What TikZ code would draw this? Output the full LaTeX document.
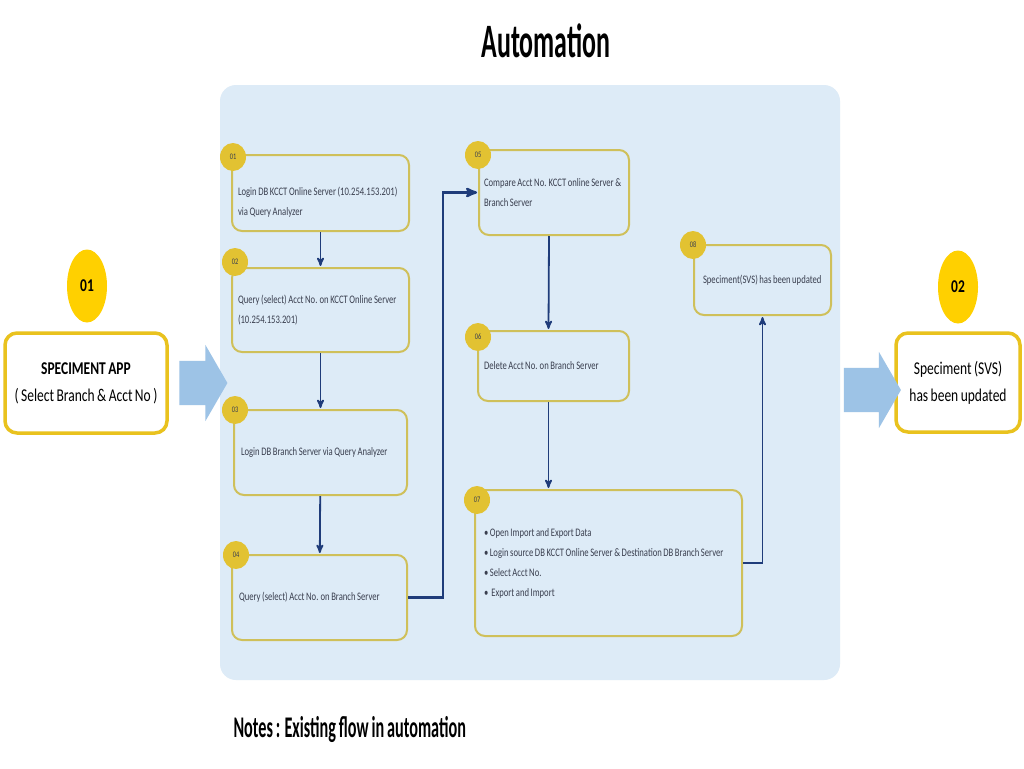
\documentclass[tikz,border=0pt]{standalone}
\usepackage{fontspec}
\setmainfont{Carlito}
\newfontfamily\narrowfont[FakeStretch=0.75,WordSpace=0.8]{Carlito}
\newfontfamily\tallfont[FakeStretch=0.54,WordSpace=0.8]{Carlito}
\usetikzlibrary{arrows,shapes.arrows,shapes.geometric}

\definecolor{panelblue}{HTML}{DDEBF7}
\definecolor{arrowblue}{HTML}{9DC3E6}
\definecolor{gold}{HTML}{FFD000}
\definecolor{goldline}{HTML}{E9C21E}
\definecolor{stepline}{HTML}{CFC05A}
\definecolor{stepdot}{HTML}{E2C232}
\definecolor{flowblue}{HTML}{1F3C7A}
\definecolor{steptext}{HTML}{3A3F4F}

\tikzset{
  endbox/.style={draw=goldline,line width=3.5pt,rounded corners=12pt,fill=white,
    align=center,inner sep=0pt,font=\narrowfont\fontsize{18}{27}\selectfont},
  enddot/.style={ellipse,fill=gold,minimum width=40pt,minimum height=73pt,inner sep=0pt,
    font=\narrowfont\bfseries\fontsize{18}{18}\selectfont},
  stepbox/.style={draw=stepline,line width=2pt,rounded corners=10pt,fill=panelblue,
    align=flush left,inner sep=0pt,text=steptext,font=\narrowfont\fontsize{11.5}{20}\selectfont},
  stepdot/.style={ellipse,fill=stepdot,minimum width=26pt,minimum height=28pt,inner sep=0pt,
    text=steptext,font=\narrowfont\fontsize{8.5}{8.5}\selectfont},
  bigarrow/.style={single arrow,fill=arrowblue,inner xsep=0pt,inner ysep=22pt,
    single arrow head extend=16pt,single arrow tip angle=120},
  flow/.style={->,>=stealth',draw=flowblue,line width=1.8pt,shorten >=1pt}
}

\begin{document}
\begin{tikzpicture}[x=1pt,y=-1pt]
  \useasboundingbox (0,0) rectangle (1024,768);
  \fill[white] (0,0) rectangle (1024,768);

  % title and notes
  \node[anchor=base,font=\tallfont\bfseries\fontsize{48}{48}\selectfont] (title) at (546,57) {Automation};
  \node[anchor=base west,font=\tallfont\bfseries\fontsize{30}{30}\selectfont] (notes) at (230,737) {Notes : Existing flow in automation};

  % automation panel
  \fill[panelblue,rounded corners=16pt] (220,85) rectangle (840,680);

  % start and end
  \node[enddot] (d1) at (87,286) {01};
  \node[endbox,minimum width=162pt,minimum height=100pt] (app) at (86,383)
    {\textbf{SPECIMENT APP}\\( Select Branch \& Acct No )};
  \node[enddot] (d2) at (958,287) {02};
  \node[endbox,minimum width=124pt,minimum height=99pt] (done) at (958,382.5)
    {Speciment (SVS)\\has been updated};

  \node[bigarrow,minimum height=48pt] (inarrow) at (197,383) {};
  \node[bigarrow,minimum height=57pt] (outarrow) at (866,390) {};

  % steps
  \node[stepbox,minimum width=177pt,minimum height=76pt,text width=165pt] (s1) at (320.5,193)
    {\rule{0pt}{26pt}Login DB KCCT Online Server (10.254.153.201)\\via Query Analyzer};
  \node[stepbox,minimum width=177pt,minimum height=84pt,text width=165pt] (s2) at (320.5,310)
    {Query (select) Acct No. on KCCT Online Server\\(10.254.153.201)};
  \node[stepbox,minimum width=173pt,minimum height=85pt,text width=159pt] (s3) at (320.5,452.5)
    {Login DB Branch Server via Query Analyzer};
  \node[stepbox,minimum width=175pt,minimum height=85pt,text width=161pt] (s4) at (319.5,597.5)
    {Query (select) Acct No. on Branch Server};
  \node[stepbox,minimum width=150pt,minimum height=85pt,text width=140pt] (s5) at (554,192.5)
    {Compare Acct No. KCCT online Server \&\\Branch Server};
  \node[stepbox,minimum width=151pt,minimum height=70pt,text width=139pt] (s6) at (553.5,366)
    {Delete Acct No. on Branch Server};
  \node[stepbox,minimum width=267pt,minimum height=146pt,text width=249pt] (s7) at (608.5,563)
    {\textbullet\ Open Import and Export Data\\
     \textbullet\ Login source DB KCCT Online Server \& Destination DB Branch Server\\
     \textbullet\ Select Acct No.\\
     \textbullet\ \ Export and Import};
  \node[stepbox,minimum width=137pt,minimum height=70pt,text width=119pt] (s8) at (762.5,280)
    {Speciment(SVS) has been updated};

  % step numbers
  \node[stepdot] (n1) at (233,157) {01};
  \node[stepdot] (n2) at (235,262) {02};
  \node[stepdot] (n3) at (235,410) {03};
  \node[stepdot] (n4) at (236,555) {04};
  \node[stepdot] (n5) at (478,155) {05};
  \node[stepdot] (n6) at (478,337) {06};
  \node[stepdot] (n7) at (477,500) {07};
  \node[stepdot] (n8) at (693,245) {08};

  % flow
  \draw[flow] (s1) -- (s2);
  \draw[flow] (s2) -- (s3);
  \draw[flow] (s3) -- (s4);
  \draw[flow,line width=2.6pt] (s4.east) -- ++(35,0) |- (s5.west);
  \draw[flow] ([xshift=-5pt]s5.south) -- ([xshift=-5pt]s6.north);
  \draw[flow] ([xshift=-5pt]s6.south) -- ([xshift=-5pt]s6.south |- s7.north);
  \draw[flow] (s7.east) -| (s8.south);

\end{tikzpicture}
\end{document}
